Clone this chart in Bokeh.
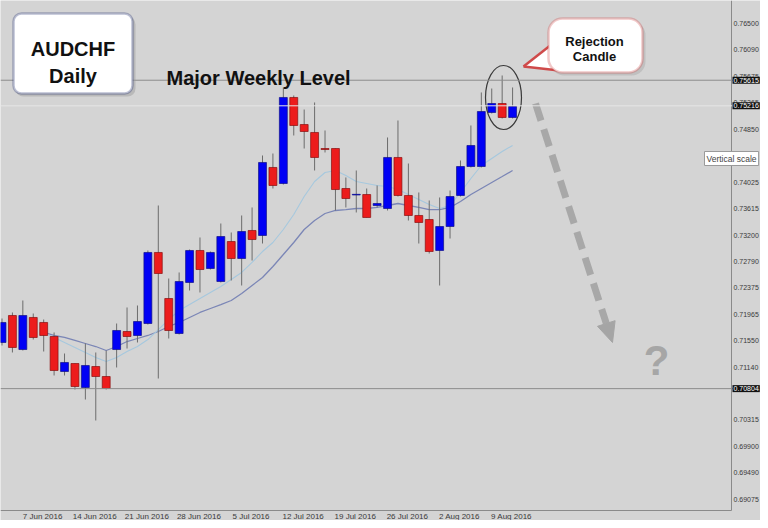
from bokeh.plotting import figure
from bokeh.models import (Range1d, FixedTicker, PrintfTickFormatter, Span, Label,
                          BoxAnnotation, ColumnDataSource, CustomJSTickFormatter)
from bokeh.embed import file_html
from bokeh.resources import INLINE

# ---------------- data (AUDCHF daily) ----------------
opens = [0.71524, 0.71945, 0.71414, 0.71914, 0.71836, 0.71617, 0.71071, 0.71196, 0.70822, 0.71149,
         0.70993, 0.71414, 0.71695, 0.71633, 0.71820, 0.72928, 0.72210, 0.71664, 0.72460, 0.72959,
         0.72678, 0.72475, 0.73099, 0.72834, 0.73271, 0.73193, 0.74254, 0.74004, 0.75346, 0.74924,
         0.74800, 0.74550, 0.74550, 0.73926, 0.73825, 0.73832, 0.73661, 0.73614, 0.74410, 0.73817,
         0.73505, 0.73442, 0.72959, 0.73333, 0.73817, 0.74269, 0.74269, 0.75112, 0.75252, 0.75034]
highs = [0.71898, 0.71992, 0.72179, 0.71976, 0.71882, 0.71680, 0.71352, 0.71196, 0.71508, 0.71368,
         0.71399, 0.71820, 0.72070, 0.72101, 0.72959, 0.73661, 0.72522, 0.72616, 0.72974, 0.73162,
         0.72943, 0.73380, 0.73240, 0.73505, 0.73630, 0.74441, 0.74472, 0.75502, 0.75377, 0.75158,
         0.75268, 0.74831, 0.74550, 0.74098, 0.74207, 0.73926, 0.73973, 0.74722, 0.74987, 0.74316,
         0.73864, 0.73739, 0.73786, 0.73895, 0.74363, 0.74909, 0.75424, 0.75486, 0.75689, 0.75502]
lows = [0.71477, 0.71368, 0.71399, 0.71570, 0.71383, 0.71009, 0.71009, 0.70790, 0.70634, 0.70307,
        0.70790, 0.71134, 0.71430, 0.71524, 0.71804, 0.70962, 0.71586, 0.71648, 0.72335, 0.72304,
        0.72662, 0.72460, 0.72491, 0.72413, 0.72803, 0.73068, 0.73926, 0.73988, 0.74753, 0.74550,
        0.74207, 0.74488, 0.73583, 0.73630, 0.73552, 0.73474, 0.73630, 0.73583, 0.73801, 0.73427,
        0.73068, 0.72912, 0.72413, 0.73146, 0.73801, 0.74254, 0.74254, 0.75096, 0.75018, 0.75018]
closes = [0.71836, 0.71446, 0.71945, 0.71602, 0.71633, 0.71087, 0.71212, 0.70837, 0.71165, 0.70993,
          0.70806, 0.71711, 0.71617, 0.71851, 0.72928, 0.72600, 0.71711, 0.72475, 0.72959, 0.72662,
          0.72928, 0.73177, 0.72834, 0.73255, 0.73130, 0.74332, 0.73973, 0.75346, 0.74909, 0.74815,
          0.74410, 0.74534, 0.73910, 0.73770, 0.73835, 0.73474, 0.73692, 0.74410, 0.73817, 0.73505,
          0.73396, 0.72943, 0.73333, 0.73801, 0.74269, 0.74597, 0.75127, 0.75252, 0.75034, 0.75205]

ma_start = 4
ma_fast = [0.71680, 0.71602, 0.71524, 0.71446, 0.71368, 0.71290, 0.71228, 0.71290, 0.71383, 0.71461,
           0.71570, 0.71726, 0.71882, 0.72023, 0.72116, 0.72210, 0.72304, 0.72397, 0.72506, 0.72616,
           0.72772, 0.72943, 0.73084, 0.73286, 0.73520, 0.73801, 0.74035, 0.74176, 0.74207, 0.74129,
           0.74035, 0.74004, 0.73973, 0.73957, 0.73910, 0.73832, 0.73754, 0.73676, 0.73614, 0.73661,
           0.73864, 0.74082, 0.74285, 0.74394, 0.74503, 0.74597]
ma_slow = [0.71680, 0.71633, 0.71602, 0.71555, 0.71508, 0.71461, 0.71399, 0.71461, 0.71539, 0.71586,
           0.71633, 0.71695, 0.71773, 0.71836, 0.71914, 0.71992, 0.72054, 0.72116, 0.72179, 0.72288,
           0.72413, 0.72538, 0.72709, 0.72896, 0.73084, 0.73286, 0.73427, 0.73536, 0.73583, 0.73598,
           0.73614, 0.73614, 0.73630, 0.73661, 0.73692, 0.73661, 0.73630, 0.73598, 0.73598, 0.73630,
           0.73723, 0.73832, 0.73926, 0.74020, 0.74113, 0.74207]

date_label_bars = [2, 7, 12, 17, 22, 27, 32, 37, 42, 47]
date_labels = ["7 Jun 2016", "14 Jun 2016", "21 Jun 2016", "28 Jun 2016", "5 Jul 2016",
               "12 Jul 2016", "19 Jul 2016", "26 Jul 2016", "2 Aug 2016", "9 Aug 2016"]
price_ticks = [0.76500, 0.76090, 0.75675, 0.75265, 0.74850, 0.74025, 0.73615, 0.73200, 0.72790,
               0.72375, 0.71965, 0.71550, 0.71140, 0.70315, 0.69900, 0.69490, 0.69075]
level_major = 0.75615
level_current = 0.75216
level_support = 0.70804

# ---------------- layout helpers (reference pixel -> data) ----------------
X0, DX = 1.5, 10.42
Y0, DY = 0.768588, 0.000156


def xd(px):
    return (px - X0) / DX


def yd(py):
    return Y0 - DY * py


BG = "#d4d4d4"
BLUE = "#0000f5"
RED = "#ec1c1c"
AXIS_X = 731
AXIS_Y = 510

p = figure(width=760, height=520, x_range=Range1d(xd(0), xd(760)),
           y_range=Range1d(yd(520), yd(0)), y_axis_location="right",
           output_backend="svg", toolbar_location=None,
           background_fill_color=BG, border_fill_color=BG,
           min_border_left=0, min_border_top=0, min_border_right=0, min_border_bottom=0)
p.grid.visible = False
p.outline_line_color = None

# price scale (right) pinned at the chart edge
ya = p.yaxis[0]
ya.fixed_location = xd(AXIS_X)
ya.bounds = (yd(AXIS_Y), yd(0))
ya.ticker = FixedTicker(ticks=price_ticks)
ya.formatter = PrintfTickFormatter(format="%.5f")
ya.major_label_text_font_size = "7px"
ya.major_label_text_font = "Liberation Sans"
ya.major_label_text_color = "#3a3a3a"
ya.axis_line_color = "#8a8a8a"
ya.major_tick_out = 0
ya.major_tick_in = 0
ya.minor_tick_out = 0
ya.minor_tick_in = 0
ya.major_label_standoff = 2

# date scale (bottom)
xa = p.xaxis[0]
xa.fixed_location = yd(AXIS_Y)
xa.bounds = (xd(0), xd(AXIS_X))
xa.ticker = FixedTicker(ticks=[b + 1.9 for b in date_label_bars])
xa.formatter = CustomJSTickFormatter(args=dict(bars=date_label_bars, labels=date_labels), code="""
const i = bars.findIndex(b => Math.abs(b + 1.9 - tick) < 0.01);
return i >= 0 ? labels[i] : '';
""")
xa.major_label_text_font_size = "8px"
xa.major_label_text_font = "Liberation Sans"
xa.major_label_text_color = "#3a3a3a"
xa.axis_line_color = "#8a8a8a"
xa.major_tick_out = 0
xa.major_tick_in = 0
xa.minor_tick_out = 0
xa.minor_tick_in = 0
xa.major_label_standoff = 1

# level lines
p.add_layout(Span(location=level_current, dimension="width", line_color="#e6e6e6", line_width=1))
p.add_layout(Span(location=level_major, dimension="width", line_color="#8c8c8c", line_width=1))
p.add_layout(Span(location=level_support, dimension="width", line_color="#8c8c8c", line_width=1))

# moving averages
ma_x = list(range(ma_start, ma_start + len(ma_fast)))
p.line(ma_x, ma_slow, line_color="#7b86b6", line_width=1.3)
p.line(ma_x, ma_fast, line_color="#a6c8de", line_width=1.1)

# candles
idx = list(range(len(opens)))
src = ColumnDataSource(dict(
    x=idx, high=highs, low=lows,
    top=[max(o, c) for o, c in zip(opens, closes)],
    bottom=[min(o, c) for o, c in zip(opens, closes)],
    color=[BLUE if c > o else RED for o, c in zip(opens, closes)],
    edge=["#10108a" if c > o else "#8a1010" for o, c in zip(opens, closes)],
))
p.segment("x", "high", "x", "low", source=src, line_color="#6c6c6c", line_width=1)
p.vbar(x="x", width=0.76, top="top", bottom="bottom", source=src,
       fill_color="color", line_color="edge", line_width=0.7)

# circle around rejection candles
p.ellipse(x=[xd(503)], y=[yd(97)], width=36, height=64, width_units="screen",
          height_units="screen", fill_alpha=0, line_color="#3a3a3a", line_width=1.2)

# dashed projection arrow
tip = (612, 342)
base = (605.8, 323)
p.line([xd(535), xd(base[0])], [yd(103), yd(base[1])], line_color="#a5a5a5",
       line_width=7, line_dash="18 9", line_alpha=0.95)
p.patch([xd(tip[0]), xd(614.6), xd(597.0)], [yd(tip[1]), yd(320.2), yd(325.8)],
        fill_color="#a5a5a5", line_color="#a5a5a5", line_width=1)
p.add_layout(Label(x=xd(656), y=yd(360), text="?", text_align="center",
                   text_baseline="alphabetic", text_font="Liberation Sans",
                   text_font_style="bold", text_font_size="42px", text_color="#a6a6a6"))

# title box
p.add_layout(BoxAnnotation(left=xd(15), right=xd(135), top=yd(16), bottom=yd(96),
                           fill_color="#9a9a9a", fill_alpha=0.45, line_alpha=0, border_radius=8))
p.add_layout(BoxAnnotation(left=xd(13), right=xd(132), top=yd(13), bottom=yd(93),
                           fill_color="white", fill_alpha=1, line_color="#1e2a6e",
                           line_width=2.5, border_radius=8))
for txt, yb in (("AUDCHF", 48), ("Daily", 75)):
    p.add_layout(Label(x=xd(72.5), y=yd(yb), text=txt, text_align="center",
                       text_baseline="alphabetic", text_font="Liberation Sans",
                       text_font_style="bold", text_font_size="20px", text_color="#111111"))

p.add_layout(Label(x=xd(166), y=yd(77), text="Major Weekly Level", text_align="left",
                   text_baseline="alphabetic", text_font="Liberation Sans",
                   text_font_style="bold", text_font_size="20px", text_color="#111111"))

# callout bubble
p.add_layout(BoxAnnotation(left=xd(550), right=xd(645), top=yd(21), bottom=yd(75),
                           fill_color="#9a9a9a", fill_alpha=0.35, line_alpha=0, border_radius=14))
p.add_layout(BoxAnnotation(left=xd(548), right=xd(642), top=yd(18), bottom=yd(72),
                           fill_color="white", fill_alpha=1, line_color="#cf4a4a",
                           line_width=2.5, border_radius=14))
tail_x = [xd(551), xd(523), xd(563)]
tail_y = [yd(44), yd(66), yd(70.5)]
p.patch(tail_x, tail_y, fill_color="white", line_alpha=0)
p.line(tail_x[:2], tail_y[:2], line_color="#cf4a4a", line_width=2.5)
p.line(tail_x[1:], tail_y[1:], line_color="#cf4a4a", line_width=2.5)
for txt, yb in (("Rejection", 41), ("Candle", 56)):
    p.add_layout(Label(x=xd(594), y=yd(yb), text=txt, text_align="center",
                       text_baseline="alphabetic", text_font="Liberation Sans",
                       text_font_style="bold", text_font_size="13px", text_color="#111111"))

# highlighted price labels on the scale
for lv in (level_major, level_current, level_support):
    p.add_layout(Label(x=xd(AXIS_X + 1), y=lv, text=f"{lv:.5f}", text_align="left",
                       text_baseline="middle", text_font="Liberation Sans",
                       text_font_size="7px", text_color="white",
                       background_fill_color="#111111", padding=1))

# "Vertical scale" tooltip
p.add_layout(Label(x=xd(704), y=yd(158), text="Vertical scale", text_align="left",
                   text_baseline="middle", text_font="Liberation Sans",
                   text_font_size="8.5px", text_color="#444444",
                   background_fill_color="white", border_line_color="#9a9a9a", padding=2))

open("out.html", "w").write(file_html(p, INLINE))
